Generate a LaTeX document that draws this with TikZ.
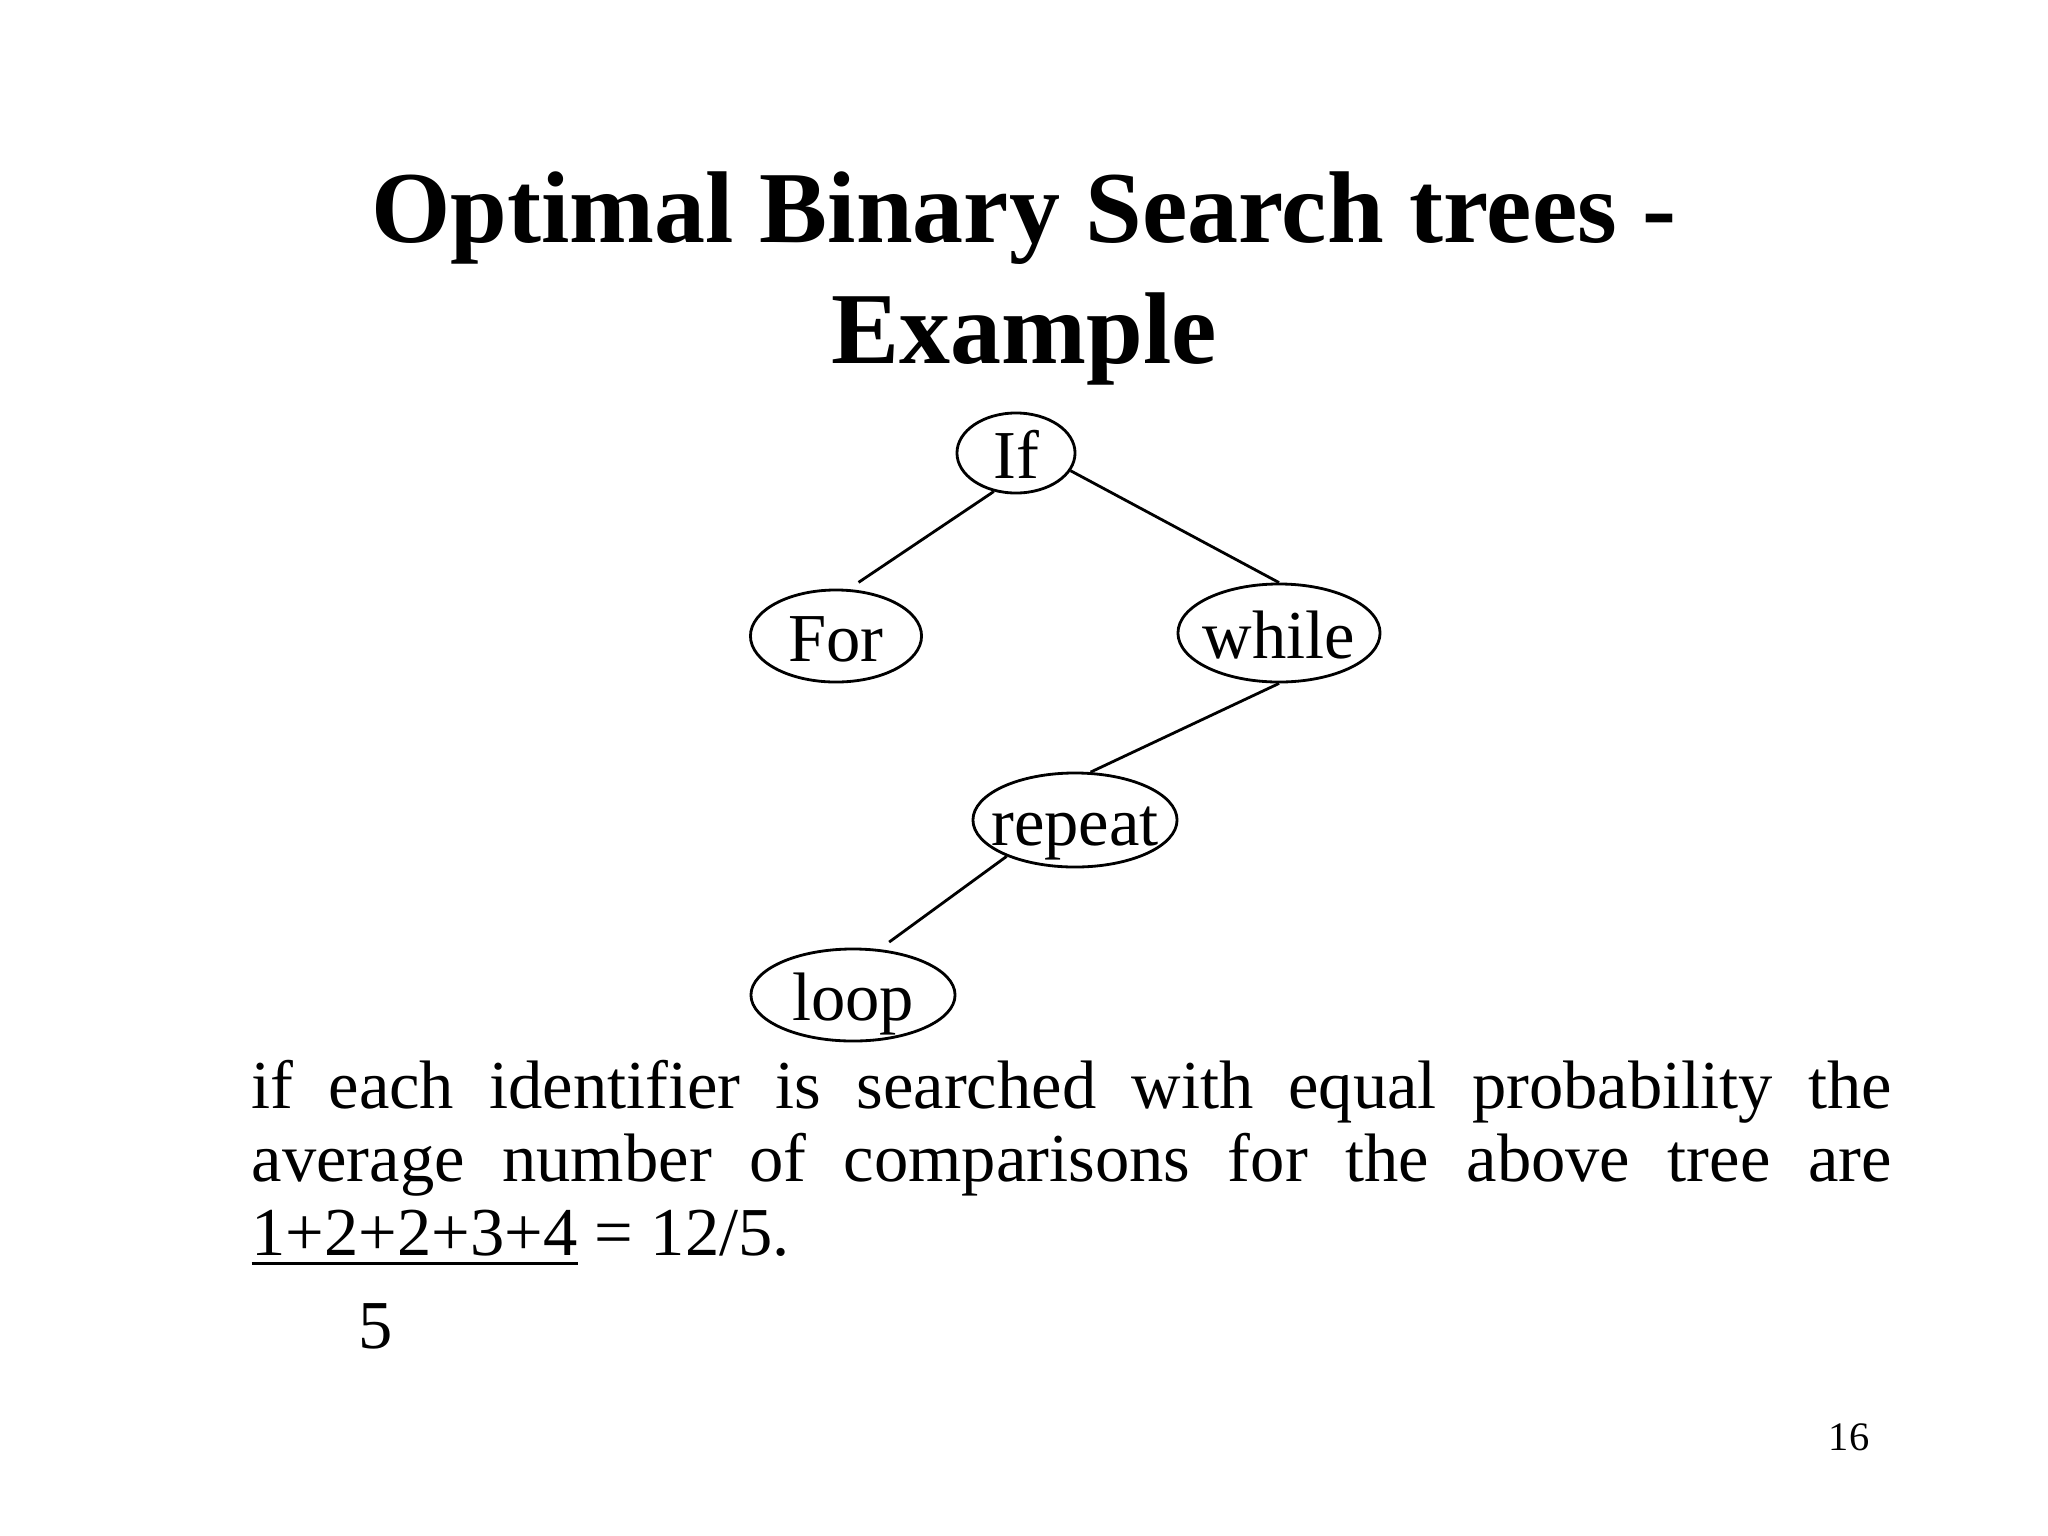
\documentclass[tikz,border=0pt]{standalone}
\usepackage{fontspec}
\setmainfont{Liberation Serif}
\usetikzlibrary{shapes.geometric}
\newcommand{\ulx}[1]{\setbox0\hbox{#1}\rlap{\rule[-2.6pt]{\wd0}{0.9pt}}\box0\relax}
\tikzset{
  kw/.style={draw, ellipse, line width=0.8pt, inner sep=0pt, text height=14.6pt, text depth=0pt, font=\fontsize{19.5}{21}\selectfont},
  ttl/.style={font=\fontsize{29}{34}\selectfont\bfseries, anchor=base, inner sep=0pt},
  txt/.style={font=\fontsize{19.5}{21}\selectfont, inner sep=0pt},
  br/.style={draw, line width=0.8pt}
}

\begin{document}
\begin{tikzpicture}[x=0.01cm, y=-0.01cm]
\path[fill=white, use as bounding box] (0,0) rectangle (2048,1536);
\node[ttl] (ttla) at (1024,242) {Optimal Binary Search trees -};
\node[ttl] (ttlb) at (1024,363) {Example};
\node[kw, minimum width=1.18cm, minimum height=0.80cm] (ifn) at (1016,453) {\makebox[0pt]{If}};
\node[kw, minimum width=1.71cm, minimum height=0.92cm] (forn) at (836,636) {\makebox[0pt]{For}};
\node[kw, minimum width=2.02cm, minimum height=0.98cm] (whilen) at (1279,633) {\makebox[0pt]{while}};
\node[kw, minimum width=2.04cm, minimum height=0.94cm] (repeatn) at (1075,820) {\makebox[0pt]{repeat}};
\node[kw, minimum width=2.04cm, minimum height=0.92cm] (loopn) at (853,995) {\makebox[0pt]{loop}};
\path[br, shorten >=0.12cm] (ifn.240) -- (forn.75);
\path[br] (ifn.-18) -- (whilen.north);
\path[br] (whilen.south) -- (repeatn.72);
\path[br, shorten >=0.12cm] (repeatn.208) -- (loopn.60);
\node[txt, text width=16.39cm, align=justify, anchor=base west] (avg) at (251,1108)
  {if each identifier is searched with equal probability the\linebreak
   average number of comparisons for the above tree are\linebreak
   \ulx{1+2+2+3+4} = 12/5.};
\node[txt, anchor=base] (den) at (376,1348) {5};
\node[font=\fontsize{11.5}{13}\selectfont, anchor=base, inner sep=0pt] (pg) at (1849,1450) {16};
\end{tikzpicture}
\end{document}
